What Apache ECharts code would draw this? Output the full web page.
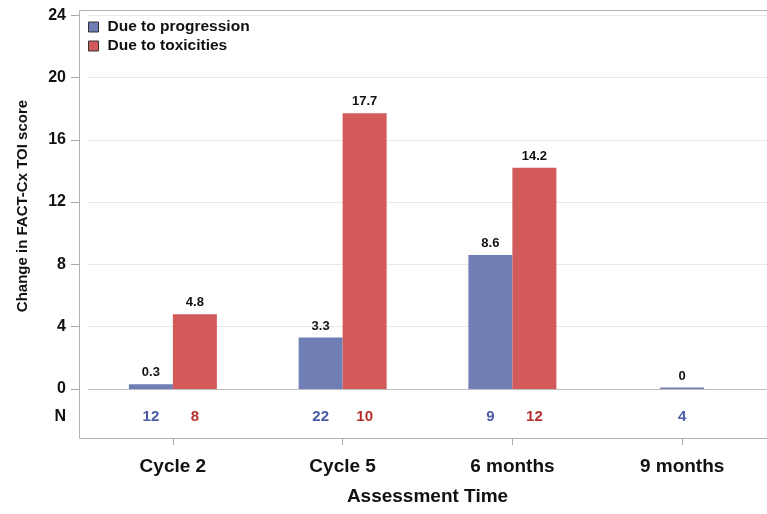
<!DOCTYPE html>
<html><head><meta charset="utf-8">
<script src="https://cdn.jsdelivr.net/npm/echarts@6/dist/echarts.min.js"></script>
<style>html,body{margin:0;padding:0;background:#fff}#c{width:767px;height:514px}</style>
</head><body><div id="c"></div>
<script>
const categories = ['Cycle 2', 'Cycle 5', '6 months', '9 months'];
const progression = [0.3, 3.3, 8.6, 0];
const toxicities = [4.8, 17.7, 14.2, null];
const nProgression = [12, 22, 9, 4];
const nToxicities = [8, 10, 12, null];
const yTicks = [0, 4, 8, 12, 16, 20, 24];

const FONT = "'Liberation Sans', Arial, sans-serif";
const BLUE = '#6f7eb5', RED = '#d35a5b';
const N_BLUE = '#4b5ba6', N_RED = '#b3302d';
const BAR_W = 44;
const N_ROW = -1.8;

const pairedProg = progression.map((v, i) => toxicities[i] == null ? '-' : v);
const singleProg = progression.map((v, i) => toxicities[i] == null ? v : '-');
const toxData = toxicities.map(v => v == null ? '-' : v);

const valueLabel = {
  show: true, position: 'top', distance: 5, color: '#111',
  fontFamily: FONT, fontWeight: 'bold', fontSize: 13
};

const chart = echarts.init(document.getElementById('c'));
chart.setOption({
  animation: false,
  graphic: [{
    type: 'rect', silent: true, z: 0,
    shape: { x: 79.5, y: 10.5, width: 700, height: 428 },
    style: { fill: 'none', stroke: '#b3b3b3', lineWidth: 1 }
  }],
  legend: {
    orient: 'vertical', left: 88, top: 19, itemGap: 3, padding: 0,
    itemWidth: 10, itemHeight: 10, icon: 'rect',
    data: ['Due to progression', 'Due to toxicities'],
    itemStyle: { borderColor: '#333', borderWidth: 1 },
    textStyle: { fontFamily: FONT, fontWeight: 'bold', fontSize: 15.5, color: '#111', padding: [0, 0, 0, 4] }
  },
  grid: { left: 88, right: -5, top: 10, bottom: 76, containLabel: false },
  xAxis: [{
    type: 'category', data: categories, position: 'bottom',
    axisLine: { show: false, onZero: false },
    axisTick: { show: true, alignWithLabel: true, length: 7, lineStyle: { color: '#a8a8a8' } },
    axisLabel: { margin: 19, color: '#111', fontFamily: FONT, fontWeight: 'bold', fontSize: 19 },
    name: 'Assessment Time', nameLocation: 'middle', nameGap: 49,
    nameTextStyle: { color: '#111', fontFamily: FONT, fontWeight: 'bold', fontSize: 19 }
  }, {
    type: 'category', data: categories, show: false, gridIndex: 0,
    axisLine: { show: false, onZero: false }, axisTick: { show: false }, axisLabel: { show: false }
  }],
  yAxis: {
    type: 'value', min: -3.145, max: 24.33, offset: 9,
    axisLine: { show: false },
    splitLine: { show: false },
    axisTick: { show: true, customValues: yTicks, length: 8, lineStyle: { color: '#a8a8a8' } },
    axisLabel: {
      customValues: yTicks.concat([N_ROW]), margin: 13,
      color: '#111', fontFamily: FONT, fontWeight: 'bold', fontSize: 16,
      formatter: v => (v === N_ROW ? 'N' : String(v))
    },
    name: 'Change in FACT-Cx TOI score', nameLocation: 'middle', nameGap: 49,
    nameTextStyle: { color: '#111', fontFamily: FONT, fontWeight: 'bold', fontSize: 15, padding: [0, 0, 0, 36] }
  },
  series: [{
    name: 'Due to progression', type: 'bar', xAxisIndex: 0,
    data: pairedProg, barWidth: BAR_W, barGap: '0%',
    itemStyle: { color: BLUE }, label: valueLabel,
    markLine: {
      silent: true, symbol: 'none', label: { show: false }, animation: false, z: 1,
      data: yTicks.map(v => ({ yAxis: v, lineStyle: { color: v === 0 ? '#bdbdbd' : '#e8e8e8', type: 'solid', width: 1 } }))
    }, z: 2
  }, {
    name: 'Due to toxicities', type: 'bar', xAxisIndex: 0,
    data: toxData, barWidth: BAR_W, barGap: '0%',
    itemStyle: { color: RED }, label: valueLabel, z: 2
  }, {
    name: 'Due to progression', type: 'bar', xAxisIndex: 1,
    data: singleProg, barWidth: BAR_W, barMinHeight: 1.5,
    itemStyle: { color: BLUE }, label: valueLabel, z: 2
  }, {
    type: 'custom', xAxisIndex: 0, silent: true, z: 3,
    data: categories.map((c, i) => [i, nProgression[i], nToxicities[i] == null ? '-' : nToxicities[i]]),
    renderItem: function (params, api) {
      const i = api.value(0);
      const p = api.coord([i, N_ROW]);
      const np = api.value(1), nt = api.value(2);
      const hasTox = !isNaN(nt);
      const children = [];
      const mk = (txt, x, col) => ({
        type: 'text',
        style: { text: String(txt), x: x, y: p[1], fill: col, align: 'center', verticalAlign: 'middle',
          textAlign: 'center', textVerticalAlign: 'middle',
          fontFamily: FONT, fontWeight: 'bold', fontSize: 15 }
      });
      children.push(mk(np, hasTox ? p[0] - BAR_W / 2 : p[0], N_BLUE));
      if (hasTox) children.push(mk(nt, p[0] + BAR_W / 2, N_RED));
      return { type: 'group', children: children };
    }
  }]
});
</script>
</body></html>
